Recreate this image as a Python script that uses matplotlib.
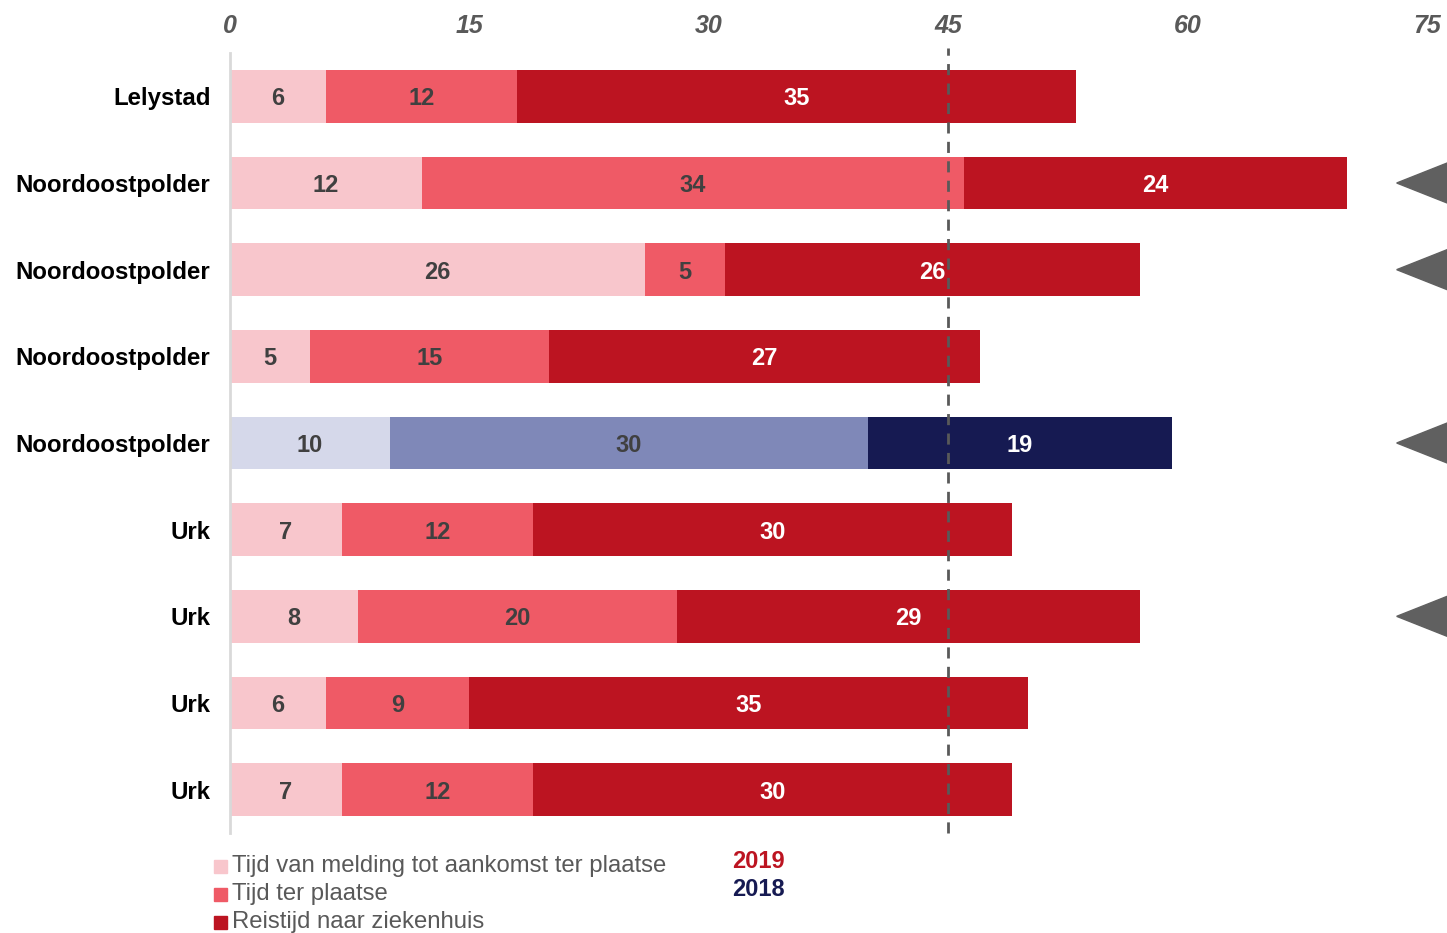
import numpy as np
import matplotlib
matplotlib.use("Agg")
import matplotlib.pyplot as plt
from matplotlib.patches import Rectangle, Polygon

plt.rcParams["font.family"] = ["Liberation Sans", "DejaVu Sans"]

# Data
places = ["Lelystad", "Noordoostpolder", "Noordoostpolder", "Noordoostpolder",
          "Noordoostpolder", "Urk", "Urk", "Urk", "Urk"]
melding = [6, 12, 26, 5, 10, 7, 8, 6, 7]
ter_plaatse = [12, 34, 5, 15, 30, 12, 20, 9, 12]
reistijd = [35, 24, 26, 27, 19, 30, 29, 35, 30]
year = [2019, 2019, 2019, 2019, 2018, 2019, 2019, 2019, 2019]
flagged = [1, 2, 4, 6]          # rows with a marker on the right
norm_minutes = 45
xticks = [0, 15, 30, 45, 60, 75]
series_names = ["Tijd van melding tot aankomst ter plaatse", "Tijd ter plaatse",
                "Reistijd naar ziekenhuis"]

COLORS = {
    2019: ["#F8C6CC", "#EF5A66", "#BC1421"],
    2018: ["#D5D8EA", "#7F88B8", "#161A52"],
}
TEXT_COLORS = ["#404040", "#404040", "white"]

fig = plt.figure(figsize=(14.47, 9.33), dpi=100, facecolor="white")
ax = fig.add_axes([230 / 1447, 100 / 933, 1197 / 1447, 780 / 933])

y = np.arange(len(places))
left = np.zeros(len(places))
for k, vals in enumerate([melding, ter_plaatse, reistijd]):
    vals = np.array(vals, dtype=float)
    cols = [COLORS[yr][k] for yr in year]
    ax.barh(y, vals, left=left, height=0.61, color=cols, edgecolor="none", zorder=2)
    for i, v in enumerate(vals):
        ax.text(left[i] + v / 2, y[i], f"{int(v)}", ha="center", va="center_baseline",
                fontsize=17, fontweight="bold", color=TEXT_COLORS[k], zorder=4)
    left += vals

ax.plot([norm_minutes, norm_minutes], [len(places) - 0.5, -0.56], color="#595959",
        lw=2, ls=(0, (4, 3)), zorder=3, clip_on=False)

# markers on the right
for r in flagged:
    tri = Polygon([[73.1, r], [76.8, r - 0.27], [76.8, r + 0.27]],
                  closed=True, color="#606060", clip_on=False, zorder=5)
    ax.add_patch(tri)

ax.set_xlim(0, 75)
ax.set_ylim(len(places) - 0.5, -0.5)
ax.xaxis.tick_top()
ax.set_xticks(xticks)
ax.set_xticklabels([str(t) for t in xticks], fontsize=18, fontstyle="italic",
                   fontweight="bold", color="#595959",
                   family=["Liberation Sans Narrow", "Liberation Sans"])
ax.tick_params(axis="x", length=0, pad=11)
ax.set_yticks(y)
ax.set_yticklabels(places, fontsize=17.3, fontweight="bold", color="black")
ax.tick_params(axis="y", length=0, pad=14)
for s in ["top", "right", "bottom"]:
    ax.spines[s].set_visible(False)
ax.spines["left"].set_color("#D9D9D9")
ax.spines["left"].set_linewidth(2)

# legend
for k, name in enumerate(series_names):
    yc = 933 - (866 + 28 * k)
    fig.patches.append(Rectangle((214 / 1447, (yc - 7) / 933), 13 / 1447, 13 / 933,
                                 transform=fig.transFigure, color=COLORS[2019][k]))
    fig.text(232 / 1447, yc / 933, name, fontsize=17.2, color="#595959",
             ha="left", va="center")
fig.text(758 / 1447, (933 - 862) / 933, "2019", fontsize=17, fontweight="bold",
         color=COLORS[2019][2], ha="center", va="center")
fig.text(758 / 1447, (933 - 890) / 933, "2018", fontsize=17, fontweight="bold",
         color=COLORS[2018][2], ha="center", va="center")

fig.savefig("out.png", dpi=100, facecolor="white")
